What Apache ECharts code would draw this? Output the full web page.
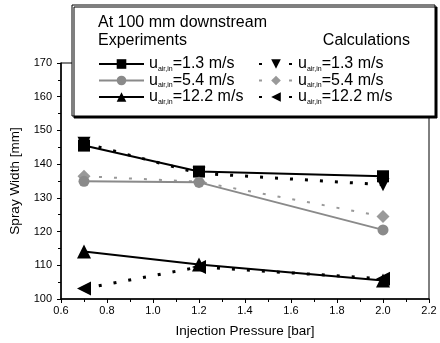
<!DOCTYPE html>
<html>
<head>
<meta charset="utf-8">
<script src="https://cdn.jsdelivr.net/npm/echarts@6/dist/echarts.min.js"></script>
<style>
  html, body { margin: 0; padding: 0; background: #fff; }
  #chart { width: 440px; height: 343px; }
</style>
</head>
<body>
<div id="chart"></div>
<script>
// injection pressure [bar]
const pressures = [0.7, 1.2, 2.0];

// spray width [mm], experiments
const exp13 = [145.5, 137.8, 136.4];
const exp54 = [134.9, 134.6, 120.5];
const exp122 = [114.1, 110.2, 105.5];

// spray width [mm], calculations
const calc13 = [146.2, 137.3, 133.9];
const calc54 = [136.4, 134.8, 124.5];
const calc122 = [103.1, 109.5, 106.0];

const speeds = ['1.3', '5.4', '12.2'];

const toPairs = vals => pressures.map((p, i) => [p, vals[i]]);

const chart = echarts.init(document.getElementById('chart'));

const FONT = '"Liberation Sans", Arial, sans-serif';

const expLine = (id, data, color, symbol, size, rot) => ({
  id: id,
  name: id,
  type: 'line',
  data: toPairs(data),
  symbol: symbol,
  symbolSize: size,
  symbolRotate: rot || 0,
  itemStyle: { color: color },
  lineStyle: { color: color, width: 2 },
  z: 3
});

const calcLine = (id, data, color, symbol, size, rot, w) => ({
  id: id,
  name: id,
  type: 'line',
  data: toPairs(data),
  symbol: symbol,
  symbolSize: size,
  symbolRotate: rot || 0,
  itemStyle: { color: color },
  lineStyle: { color: color, width: w || 3, type: [3, 12] },
  z: 2
});

const labelOf = name => {
  const k = speeds[['13', '54', '122'].indexOf(name.replace(/^\D+/, ''))];
  return '{u|u}{s|air,in}{t|=' + k + ' m/s}';
};

const richText = {
  u: { fontSize: 16, lineHeight: 17, fontFamily: FONT, color: '#000' },
  s: { fontSize: 7, lineHeight: 7, verticalAlign: 'bottom', fontFamily: FONT, color: '#000' },
  t: { fontSize: 16, lineHeight: 17, fontFamily: FONT, color: '#000' }
};

chart.setOption({
  animation: false,
  grid: { left: 61, right: 11, top: 63, bottom: 42, show: true, borderColor: '#000', borderWidth: 1 },
  xAxis: {
    type: 'value',
    min: 0.6,
    max: 2.2,
    interval: 0.2,
    name: 'Injection Pressure [bar]',
    nameLocation: 'middle',
    nameGap: 25,
    nameTextStyle: { fontFamily: FONT, fontSize: 13.5, color: '#000' },
    axisLine: { lineStyle: { color: '#000', width: 1.5 } },
    axisTick: { inside: false, length: 4, lineStyle: { color: '#000' } },
    minorTick: { show: true, splitNumber: 2, length: 3, lineStyle: { color: '#000' } },
    splitLine: { show: false },
    axisLabel: { fontFamily: FONT, fontSize: 11, color: '#000', margin: 6, formatter: v => v.toFixed(1) }
  },
  yAxis: {
    type: 'value',
    min: 100,
    max: 170,
    interval: 10,
    name: 'Spray Width [mm]',
    nameLocation: 'middle',
    nameGap: 38,
    nameTextStyle: { fontFamily: FONT, fontSize: 13.5, color: '#000' },
    axisLine: { show: true, lineStyle: { color: '#000', width: 1.5 } },
    axisTick: { show: true, inside: false, length: 4, lineStyle: { color: '#000' } },
    minorTick: { show: true, splitNumber: 2, length: 3, lineStyle: { color: '#000' } },
    splitLine: { show: false },
    axisLabel: { fontFamily: FONT, fontSize: 11, color: '#000', margin: 9 }
  },
  graphic: [{
    type: 'rect',
    z: 50,
    shape: { x: 72, y: 5, width: 363, height: 111 },
    style: { fill: '#fff', stroke: '#000', lineWidth: 1, shadowColor: '#000', shadowOffsetX: 2, shadowOffsetY: 2, shadowBlur: 0 }
  }, {
    type: 'text', z: 51, left: 98, top: 15,
    style: { text: 'At 100 mm downstream', font: '16px ' + FONT, fill: '#000' }
  }, {
    type: 'text', z: 51, left: 98, top: 33,
    style: { text: 'Experiments', font: '16px ' + FONT, fill: '#000' }
  }, {
    type: 'text', z: 51, right: 30, top: 33,
    style: { text: 'Calculations', font: '16px ' + FONT, fill: '#000' }
  }],
  legend: [{
    data: ['exp13', 'exp54', 'exp122'],
    orient: 'vertical',
    left: 98,
    top: 56,
    z: 60,
    itemGap: 0,
    itemWidth: 45,
    itemHeight: 12,
    padding: 0,
    formatter: labelOf,
    textStyle: { rich: richText }
  }, {
    data: ['calc13', 'calc54', 'calc122'],
    orient: 'vertical',
    left: 258,
    top: 56,
    z: 60,
    itemGap: 0,
    itemWidth: 34,
    itemHeight: 12,
    padding: 0,
    formatter: labelOf,
    textStyle: { rich: richText }
  }],
  series: [
    calcLine('calc13', calc13, '#000', 'triangle', 13, 180),
    calcLine('calc54', calc54, '#999', 'diamond', 13, 0, 2),
    calcLine('calc122', calc122, '#000', 'triangle', 14, 90),
    expLine('exp13', exp13, '#000', 'rect', 12),
    expLine('exp54', exp54, '#8a8a8a', 'circle', 11),
    expLine('exp122', exp122, '#000', 'triangle', 14)
  ]
});
</script>
</body>
</html>
